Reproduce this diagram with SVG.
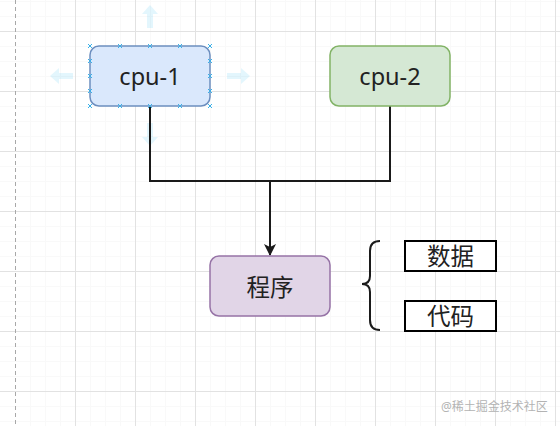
<svg xmlns="http://www.w3.org/2000/svg" width="560" height="426" viewBox="0 0 560 426">
<defs>
<style>
.minor{stroke:#f9f9f9;stroke-width:1}
.major{stroke:#e2e2e2;stroke-width:1}
.node{stroke-width:1.5}
.lbl{font-family:"Noto Sans","Noto Sans CJK SC",sans-serif;font-size:23.5px;fill:#222;text-anchor:middle}
.edge{fill:none;stroke:#1a1a1a;stroke-width:2}
.hint{fill:#29b6f2;opacity:0.13}
.handle{stroke:#3ab0e8;stroke-width:1;fill:none}
</style>
<marker id="arr" viewBox="0 0 12 12" refX="11" refY="6" markerWidth="12" markerHeight="12" markerUnits="userSpaceOnUse" orient="auto">
<path d="M0,0 L12,6 L0,12 L3,6 Z" fill="#1a1a1a"/>
</marker>
<path id="xm" d="M-2,-2 L2,2 M-2,2 L2,-2"/>
</defs>
<rect width="560" height="426" fill="#ffffff"/>
<g id="grid">
<path class="minor" d="M30.5,0V426M45.5,0V426M60.5,0V426M90.5,0V426M105.5,0V426M120.5,0V426M150.5,0V426M165.5,0V426M180.5,0V426M210.5,0V426M225.5,0V426M240.5,0V426M270.5,0V426M285.5,0V426M300.5,0V426M330.5,0V426M345.5,0V426M360.5,0V426M390.5,0V426M405.5,0V426M420.5,0V426M450.5,0V426M465.5,0V426M480.5,0V426M510.5,0V426M525.5,0V426M540.5,0V426M0,1.5H560M0,16.5H560M0,46.5H560M0,61.5H560M0,76.5H560M0,106.5H560M0,121.5H560M0,136.5H560M0,166.5H560M0,181.5H560M0,196.5H560M0,226.5H560M0,241.5H560M0,256.5H560M0,286.5H560M0,301.5H560M0,316.5H560M0,346.5H560M0,361.5H560M0,376.5H560M0,406.5H560M0,421.5H560"/>
<path class="major" d="M75.5,0V426M135.5,0V426M195.5,0V426M255.5,0V426M315.5,0V426M375.5,0V426M435.5,0V426M495.5,0V426M555.5,0V426M0,31.5H560M0,91.5H560M0,151.5H560M0,211.5H560M0,271.5H560M0,331.5H560M0,391.5H560"/>
<path d="M15.5,0V426" stroke="#a8a8a8" stroke-width="1" stroke-dasharray="4 3"/>
</g>
<g id="hover-hints">
<path class="hint" d="M150,5 L158,14 L153,14 L153,28 L147,28 L147,14 L142,14 Z"/>
<path class="hint" d="M150,146 L158,137 L153,137 L153,123 L147,123 L147,137 L142,137 Z"/>
<path class="hint" d="M50,76 L59,68 L59,73 L73,73 L73,79 L59,79 L59,84 Z"/>
<path class="hint" d="M250,76 L241,68 L241,73 L227,73 L227,79 L241,79 L241,84 Z"/>
</g>
<g id="connectors">
<path class="edge" d="M150,106 V181 H390 V106"/>
<path class="edge" d="M270,181 V255" marker-end="url(#arr)"/>
</g>
<g id="cpu-1">
<rect class="node" x="90" y="46" width="120" height="60" rx="9" fill="#dae8fc" stroke="#6c8ebf"/>
<text class="lbl" x="150" y="84.5">cpu-1</text>
<g class="handle">
<use href="#xm" x="90" y="46"/><use href="#xm" x="120" y="46"/><use href="#xm" x="150" y="46"/><use href="#xm" x="180" y="46"/><use href="#xm" x="210" y="46"/>
<use href="#xm" x="90" y="106"/><use href="#xm" x="120" y="106"/><use href="#xm" x="150" y="106"/><use href="#xm" x="180" y="106"/><use href="#xm" x="210" y="106"/>
<use href="#xm" x="90" y="61"/><use href="#xm" x="90" y="76"/><use href="#xm" x="90" y="91"/>
<use href="#xm" x="210" y="61"/><use href="#xm" x="210" y="76"/><use href="#xm" x="210" y="91"/>
</g>
</g>
<g id="cpu-2">
<rect class="node" x="330" y="46" width="120" height="60" rx="9" fill="#d5e8d4" stroke="#82b366"/>
<text class="lbl" x="390" y="84.5">cpu-2</text>
</g>
<g id="program">
<rect class="node" x="210" y="256" width="120" height="60" rx="9" fill="#e1d5e7" stroke="#9673a6"/>
<text class="lbl" x="270" y="295.5">程序</text>
</g>
<g id="brace">
<path d="M380,241 Q370,241 370,251 V276 Q370,284 362,284 Q370,284 370,292 V320 Q370,330 380,330" fill="none" stroke="#1a1a1a" stroke-width="2"/>
</g>
<g id="data">
<rect x="405" y="241" width="91" height="30" fill="#ffffff" stroke="#000000" stroke-width="2"/>
<text class="lbl" x="450.5" y="264.5">数据</text>
</g>
<g id="code">
<rect x="405" y="301" width="91" height="30" fill="#ffffff" stroke="#000000" stroke-width="2"/>
<text class="lbl" x="450.5" y="325">代码</text>
</g>
<text x="441" y="411" font-family="'Noto Sans','Noto Sans CJK SC',sans-serif" font-size="12" fill="#b3b3b3">@稀土掘金技术社区</text>
</svg>
